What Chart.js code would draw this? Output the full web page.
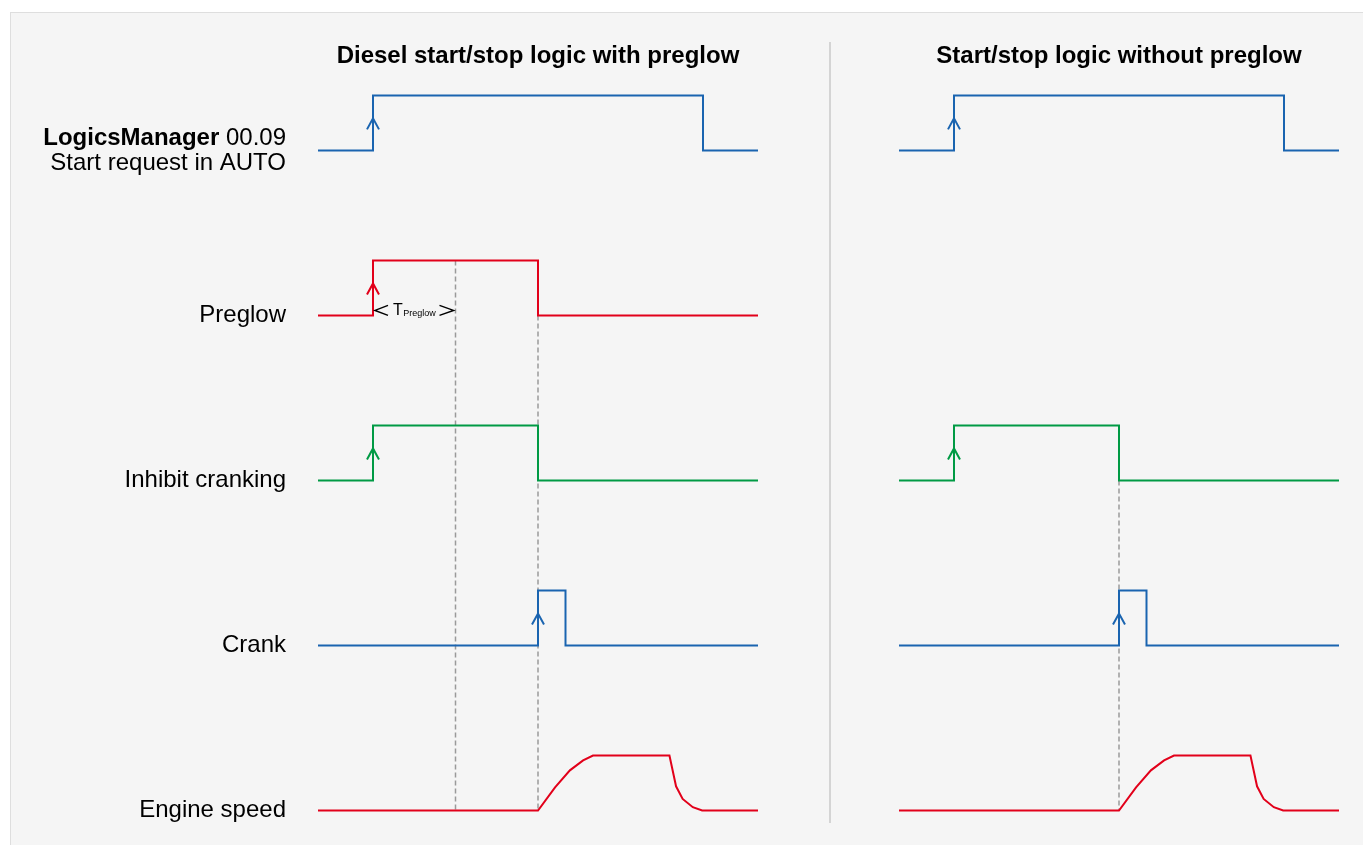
<!DOCTYPE html>
<html>
<head>
<meta charset="utf-8">
<script src="https://cdn.jsdelivr.net/npm/chart.js@4.4.1/dist/chart.umd.min.js"></script>
<style>
  html, body { margin: 0; padding: 0; background: #fff; overflow: hidden; }
  #panel { position: absolute; left: 10px; top: 12px; width: 1400px; height: 900px; background: #f5f5f5; border-top: 1px solid #dedede; border-left: 1px solid #dedede; }
  #divider { position: absolute; left: 829px; top: 42px; width: 2px; height: 781px; background: #d4d4d4; }
  canvas { position: absolute; left: 0; top: 0; }
</style>
</head>
<body>
<div id="panel"></div>
<div id="divider"></div>
<canvas id="left" width="1363" height="845"></canvas>
<canvas id="right" width="1363" height="845"></canvas>
<script>
// time runs 0..16 (arbitrary units), every signal is 0 (low) or 1 (high)
const FONT = "'Liberation Sans', Arial, sans-serif";
const BLUE = '#1a64b0', RED = '#e2001a', GREEN = '#009a44';

const rowNames = ['Start request in AUTO', 'Preglow', 'Inhibit cranking', 'Crank', 'Engine speed'];
const rowHeader = ['LogicsManager', ' 00.09'];
const rowBase = [12, 9, 6, 3, 0];
const rowColors = [BLUE, RED, GREEN, BLUE, RED];

// [time, level] - level changes at that time
const startRequest = [[0, 0], [2, 1], [14, 0], [16, 0]];
const preglow = [[0, 0], [2, 1], [8, 0], [16, 0]];
const inhibitWithPreglow = [[0, 0], [2, 1], [8, 0], [16, 0]];
const inhibitNoPreglow = [[0, 0], [2, 1], [8, 0], [16, 0]];
const crank = [[0, 0], [8, 1], [9, 0], [16, 0]];

const engineT = [0, 8, 8.62, 9.16, 9.64, 10, 12.78, 13.02, 13.26, 13.63, 13.97, 16];
const engineV = [0, 0, 0.42, 0.73, 0.91, 1, 1, 0.44, 0.21, 0.06, 0, 0];

// dashed time markers: [time, top value]
const markersLeft = [[5, rowBase[1] + 1], [8, rowBase[1]]];
const markersRight = [[8, rowBase[2]]];
const tPreglow = [2, 5];

function stepSet(row, pts) {
  return {
    data: pts.map(([t, v]) => ({ x: t, y: rowBase[row] + v })),
    borderColor: rowColors[row], borderWidth: 2, stepped: true,
    pointRadius: 0, fill: false, order: 1, digital: true, row: row
  };
}

function engineSet() {
  return {
    data: engineT.map((t, i) => ({ x: t, y: rowBase[4] + engineV[i] })),
    borderColor: rowColors[4], borderWidth: 2, tension: 0,
    pointRadius: 0, fill: false, order: 1, row: 4
  };
}

function markerSets(list) {
  return list.map(([t, top]) => ({
    data: [{ x: t, y: top }, { x: t, y: rowBase[4] }],
    borderColor: '#9a9a9a', borderWidth: 1.5, borderDash: [5, 3],
    pointRadius: 0, fill: false, order: 2
  }));
}

const edgeArrows = {
  id: 'edgeArrows',
  afterDatasetsDraw(chart) {
    const { ctx, scales: { x, y } } = chart;
    chart.data.datasets.forEach(ds => {
      if (!ds.digital) return;
      for (let i = 1; i < ds.data.length; i++) {
        if (ds.data[i].y <= ds.data[i - 1].y) continue;
        const px = x.getPixelForValue(ds.data[i].x);
        const tip = y.getPixelForValue(rowBase[ds.row]) - 32;
        ctx.save();
        ctx.strokeStyle = ds.borderColor;
        ctx.lineWidth = 2;
        ctx.beginPath();
        ctx.moveTo(px - 6, tip + 11);
        ctx.lineTo(px, tip);
        ctx.lineTo(px + 6, tip + 11);
        ctx.stroke();
        ctx.restore();
      }
    });
  }
};

const rowLabels = {
  id: 'rowLabels',
  afterDraw(chart) {
    const { ctx, chartArea, scales: { x, y } } = chart;
    const right = chartArea.left - 32;
    ctx.save();
    ctx.fillStyle = '#000';
    ctx.textAlign = 'right';
    ctx.textBaseline = 'alphabetic';
    rowNames.forEach((name, i) => {
      const py = y.getPixelForValue(rowBase[i]);
      ctx.font = '24px ' + FONT;
      if (i === 0) {
        const w = ctx.measureText(rowHeader[1]).width;
        ctx.fillText(rowHeader[1], right, py - 5.5);
        ctx.font = 'bold 24px ' + FONT;
        ctx.fillText(rowHeader[0], right - w, py - 5.5);
        ctx.font = '24px ' + FONT;
        ctx.fillText(name, right, py + 20);
      } else {
        ctx.fillText(name, right, py + 7);
      }
    });

    // T Preglow dimension
    const x0 = x.getPixelForValue(tPreglow[0]);
    const x1 = x.getPixelForValue(tPreglow[1]);
    const yb = y.getPixelForValue(rowBase[1]);
    ctx.strokeStyle = '#000';
    ctx.lineWidth = 1.5;
    ctx.beginPath();
    ctx.moveTo(x0 + 15, yb - 10); ctx.lineTo(x0 + 2, yb - 5); ctx.lineTo(x0 + 15, yb);
    ctx.moveTo(x1 - 16, yb - 10); ctx.lineTo(x1 - 2, yb - 5); ctx.lineTo(x1 - 16, yb);
    ctx.stroke();
    ctx.textAlign = 'left';
    ctx.font = '16px ' + FONT;
    ctx.fillText('T', x0 + 20, yb);
    const tw = ctx.measureText('T').width;
    ctx.font = '9px ' + FONT;
    ctx.fillText('Preglow', x0 + 20 + tw + 0.5, yb + 1);
    ctx.restore();
  }
};

function makeChart(id, title, datasets, padLeft, padRight, plugins) {
  return new Chart(document.getElementById(id).getContext('2d'), {
    type: 'line',
    data: { datasets: datasets },
    options: {
      responsive: false,
      animation: false,
      devicePixelRatio: 1,
      layout: { padding: { left: padLeft, right: padRight, top: 0, bottom: 1.5 } },
      plugins: {
        legend: { display: false },
        tooltip: { enabled: false },
        title: {
          display: true,
          text: title,
          fullSize: false,
          color: '#000',
          font: { family: FONT, size: 24, weight: 'bold', lineHeight: 1.2 },
          padding: { top: 42, bottom: 5.6 }
        }
      },
      scales: {
        x: { type: 'linear', min: 0, max: 16, display: false },
        y: { type: 'linear', min: -0.6, max: 13.345, display: false }
      }
    },
    plugins: plugins
  });
}

makeChart('left', 'Diesel start/stop logic with preglow', [
  ...markerSets(markersLeft),
  stepSet(0, startRequest),
  stepSet(1, preglow),
  stepSet(2, inhibitWithPreglow),
  stepSet(3, crank),
  engineSet()
], 318, 605, [edgeArrows, rowLabels]);

makeChart('right', 'Start/stop logic without preglow', [
  ...markerSets(markersRight),
  stepSet(0, startRequest),
  stepSet(2, inhibitNoPreglow),
  stepSet(3, crank),
  engineSet()
], 899, 24, [edgeArrows]);
</script>
</body>
</html>
